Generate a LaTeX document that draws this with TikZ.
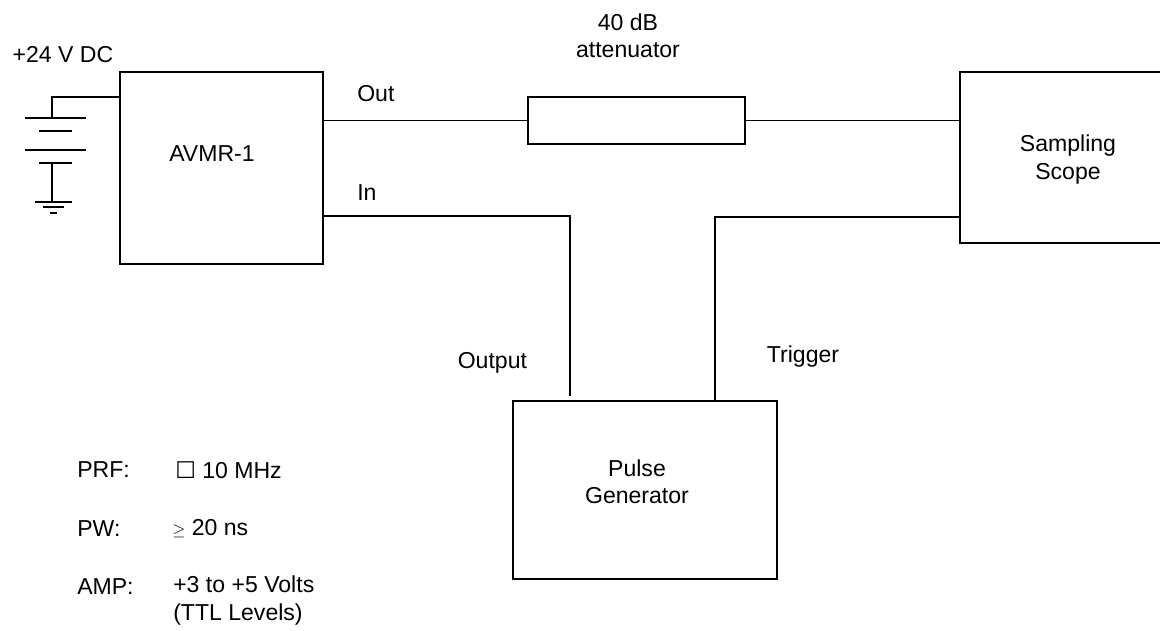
\documentclass[tikz,border=0pt]{standalone}
\usepackage{fontspec}
\setmainfont{Liberation Sans}
\newfontfamily\symbfont{DejaVu Sans}
\tikzset{
  every node/.style={font=\fontsize{16.4}{19.5}\selectfont, inner sep=0pt},
  wire/.style={line width=1.3pt},
  block/.style={draw, line width=1.3pt},
}

\begin{document}
\begin{tikzpicture}
\clip (0,0) rectangle (29,15.775);
% blocks
\node[block, minimum width=5.075cm, minimum height=4.8cm] (avmr) at (5.5375,11.575) {};
\node at (5.3,11.925) {AVMR-1};
\node[block, minimum width=5.425cm, minimum height=1.175cm] (atten) at (15.9125,12.7625) {};
\node[align=center] at (15.7,14.8875) {40 dB\\attenuator};
\node[block, minimum width=6cm, minimum height=4.275cm] (scope) at (27,11.8375) {};
\node[align=center] at (26.7,11.79) {Sampling\\Scope};
\node[block, minimum width=6.6cm, minimum height=4.45cm] (pulse) at (16.125,3.525) {};
\node[align=center] at (15.925,3.725) {Pulse\\Generator};

% battery
\node at (1.575,14.4) {+24 V DC};
\coordinate (batt) at (1.3,12.825);
\coordinate (vplus) at (3.0,13.35);
\draw[wire] (batt) |- (vplus);
\draw[wire] (0.625,12.825) -- (2.15,12.825);
\draw[wire] (0.975,12.5) -- (1.8,12.5);
\draw[wire] (0.625,12.025) -- (2.15,12.025);
\draw[wire] (0.975,11.7) -- (1.8,11.7);
\draw[wire] (1.3,11.7) -- (1.3,10.725);
\draw[wire] (0.875,10.725) -- (1.8,10.725);
\draw[wire] (1.075,10.6) -- (1.6,10.6);
\draw[wire] (1.25,10.45) -- (1.425,10.45);

% connections
\draw[wire] (atten.west) -- (atten.west -| avmr.east);
\draw[wire] (atten.east) -- (atten.east -| scope.west);
\node[anchor=west] at (8.925,13.425) {Out};
\coordinate (inpin) at (8.075,10.375);
\coordinate (outpin) at (14.25,5.875);
\draw[wire] (inpin) -| (outpin);
\node[anchor=west] at (8.925,10.95) {In};
\node at (12.31,6.7) {Output};
\coordinate (trigin) at (24.0,10.35);
\coordinate (trigpin) at (17.875,5.75);
\draw[wire] (trigin) -| (trigpin);
\node at (20.075,6.85) {Trigger};

% pulse settings
\node[anchor=west] at (1.925,4.025) {PRF:};
\node[anchor=west] at (4.375,4.025) {{\symbfont ☐} 10 MHz};
\node[anchor=west] at (1.925,2.55) {PW:};
\node[anchor=west] at (4.3,2.55) {{\fontsize{12}{12}\selectfont$\geq$} 20 ns};
\node[anchor=west] at (1.925,1.1) {AMP:};
\node[anchor=north west, align=left] at (4.325,1.375) {+3 to +5 Volts\\(TTL Levels)};
\end{tikzpicture}
\end{document}
